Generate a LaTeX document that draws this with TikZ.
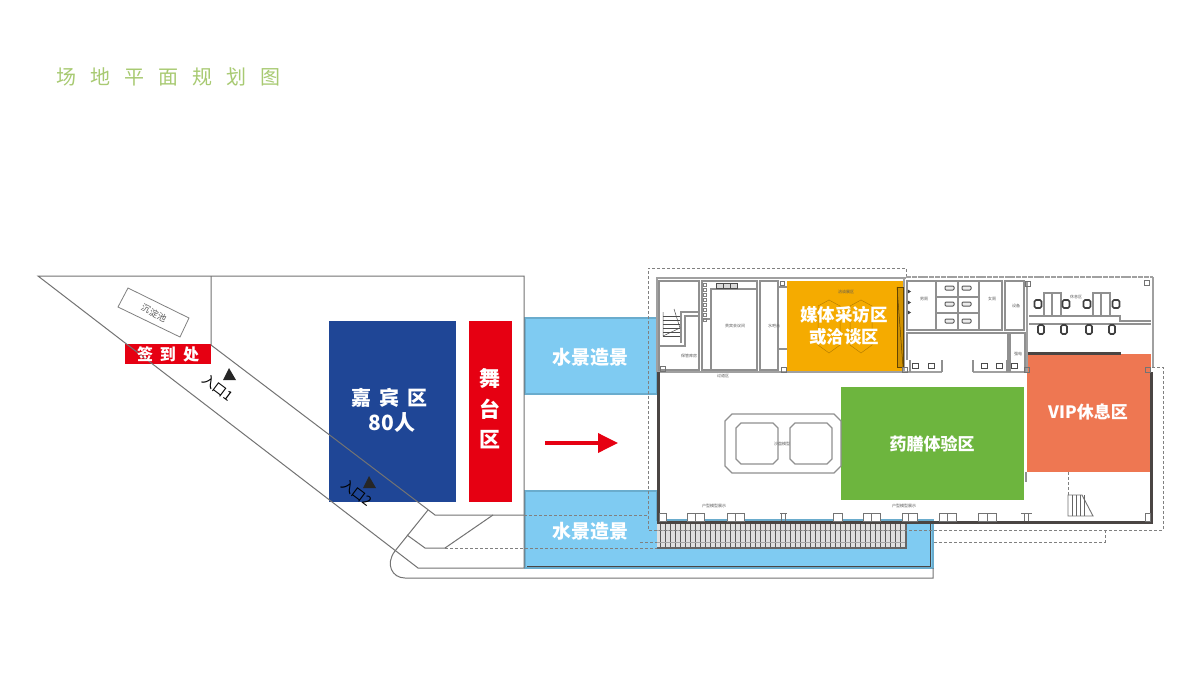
\documentclass[tikz,border=0pt]{standalone}
\usepackage{fontspec}
\setmainfont{Noto Sans CJK SC}
\usetikzlibrary{arrows.meta}
\definecolor{titlegreen}{HTML}{A8CA72}
\definecolor{waterblue}{HTML}{7FCBF2}
\definecolor{wateredge}{HTML}{6AACCD}
\definecolor{guestblue}{HTML}{1F4696}
\definecolor{stagered}{HTML}{E60012}
\definecolor{mediaorange}{HTML}{F5AB00}
\definecolor{foodgreen}{HTML}{6DB53E}
\definecolor{vipred}{HTML}{EE7752}
\definecolor{wallgray}{HTML}{A0A0A0}
\definecolor{walldark}{HTML}{4A4543}
\tikzset{
	x=1pt, y=-1pt, % one unit is one pixel of the plan, y runs downwards
	siteline/.style={draw=gray!90!black, line width=1pt}, % outline of the site
	roomline/.style={draw=wallgray!90!black, line width=1.2pt}, % thin room walls
	wall/.style={draw=wallgray, line width=2.6pt}, % upper walls
	darkwall/.style={draw=walldark, line width=3pt}, % heavy outer walls
	dashline/.style={draw=gray, line width=0.8pt, dashed, dash pattern=on 3pt off 2pt}, % hidden edges
	furniture/.style={draw=gray!90!black, line width=1pt, fill=white}, % small boxes along the walls
	seat/.style={draw=black!75, line width=1.6pt, fill=white, rounded corners=1.5pt}, % chairs and fittings
	water/.style={fill=waterblue, draw=wateredge, line width=2pt}, % ponds
	zonelabel/.style={text=white, font=\bfseries, inner sep=0pt}, % big zone names
	tiny/.style={text=gray!70!black, font=\fontsize{4}{4}\selectfont, inner sep=0pt}, % room names
}

\begin{document}
\begin{tikzpicture}
	\useasboundingbox[fill=white] (0,0) rectangle (1200,675);

	% ponds
	\path[water] (525,318) rectangle (657,394);
	\path[water] (525,491) -- (657,491) -- (657,520) -- (933,520) -- (933,568) -- (525,568) -- cycle;
	\draw[walldark, line width=0.6pt] (527,566) -- (930,566) -- (930,522);

	% zones of the forecourt
	\fill[guestblue] (329,321) rectangle (456,502);
	\fill[stagered] (469,321) rectangle (512,502);
	\fill[stagered] (125,344) rectangle (211,364);

	% site outline
	\draw[siteline] (524,568) -- (524,276) -- (38,276) -- (418,568) -- (524,568);
	\draw[siteline] (211,276) -- (211,345) -- (435,515) -- (524,515);
	\draw[siteline] (428,510) -- (395,551) .. controls (385,564) and (392,578) .. (405,578) -- (933,578) -- (933,568);
	\draw[siteline] (407,535) -- (425,548) -- (445,548) -- (493,515);
	\draw[dashline] (524,515) -- (648,515);
	\draw[dashline] (445,548) -- (657,548);
	\draw[dashline] (640,542) -- (657,542);

	% settling pool
	\draw[draw=gray, line width=0.8pt, fill=white] (128,288) -- (189,318) -- (180,337) -- (118,307) -- cycle;
	\node[rotate=-27, text=gray!70!black, font=\fontsize{9}{9}\selectfont, inner sep=0pt] (pool) at (154,313) {沉淀池};

	% entrances
	\node[rotate=-37, font=\fontsize{13.5}{14}\selectfont, inner sep=0pt] (gate1) at (218,388) {入口1};
	\node[rotate=-37, font=\fontsize{13.5}{14}\selectfont, inner sep=0pt] (gate2) at (357,493) {入口2};
	\fill[black!85] (229,368) -- (236,380) -- (223,380) -- cycle;
	\fill[black!85] (369,476) -- (376,488) -- (363,488) -- cycle;

	% walkway along the building
	\fill[gray!25] (657,522) rectangle (906,548);
	\foreach \x in {660,665,...,905}
		\draw[gray!70!black, line width=0.5pt] (\x,523) -- (\x,547);
	\draw[gray!70, line width=0.5pt] (657,530) -- (906,530);
	\draw[gray!70, line width=0.5pt] (657,542) -- (906,542);
	\draw[gray!80!black, line width=1.4pt] (657,548) -- (906,548) -- (906,522);

	% dashed roof edge
	\draw[dashline] (906,277) -- (906,268) -- (648,268) -- (648,530) -- (1163,530) -- (1163,367) -- (1151,367);
	\draw[dashline] (934,542) -- (1105,542) -- (1105,530);
	\draw[dashline] (1068,472) -- (1068,495);

	% coloured rooms
	\fill[mediaorange] (787,281) rectangle (903,372);
	\fill[foodgreen] (841,387) rectangle (1024,500);
	\fill[vipred] (1027,354) rectangle (1151,472);
	\draw[walldark, line width=3pt] (1028,353) -- (1121,353);

	% upper walls
	\draw[wall] (657,372) -- (657,278) -- (906,278);
	\draw[wall] (657,372) -- (905,372);
	\draw[wall] (905,372) -- (942,372);
	\draw[wall] (973,372) -- (1027,372);
	\draw[wall] (904,278) -- (904,372);
	\draw[wall] (1027,281) -- (1027,372);
	\draw[wall] (1153,277) -- (1153,367);
	\draw[wall, dash pattern=on 5pt off 0.8pt] (906,277) -- (1153,277);

	% heavy walls
	\draw[darkwall] (658,372) -- (658,522) -- (1151,522) -- (1151,372);

	% rooms on the left of the upper band
	\draw[roomline] (659,281) rectangle (699,370);
	\draw[roomline] (681,343) -- (681,312) -- (699,312);
	\draw[roomline] (659,346) -- (685,346) -- (685,316) -- (699,316);
	\foreach \y in {316,320,...,336}
		\draw[black!70, line width=0.5pt] (663,\y) -- (680,\y);
	\draw[black!70, line width=0.5pt] (663,312) -- (663,336) -- (680,328) -- (674,309);
	\draw[roomline] (702,281) rectangle (757,370);
	\draw[roomline] (711,370) -- (711,289) -- (757,289);
	\draw[roomline] (702,319) -- (711,319);
	\foreach \y in {283,288,...,318}
		\draw[gray, line width=0.5pt] (703,\y) rectangle (706,\y+3);
	\foreach \x in {716,723,730}
		\draw[black!70, line width=0.9pt, fill=gray!30] (\x,283) rectangle (\x+7,288);
	\draw[roomline] (760,281) rectangle (778,370);
	\draw[roomline] (778,287) -- (787,287);
	\draw[roomline] (778,349) -- (787,349);
	\draw[furniture] (780,281) rectangle (784,285);

	% media room fittings
	\draw[black!25!mediaorange, line width=0.5pt] (829,300) -- (818,306) -- (818,345) -- (829,353) -- (840,345) -- (840,306) -- cycle;
	\draw[black!25!mediaorange, line width=0.5pt] (861,300) -- (850,306) -- (850,345) -- (861,353) -- (872,345) -- (872,306) -- cycle;
	\draw[black!60!mediaorange, line width=0.8pt, fill=mediaorange!85!black] (897,287) rectangle (903,367);
	\draw[black!60!mediaorange, line width=0.5pt] (897,287) -- (903,367);
	\foreach \y in {289,300,310}
		\fill[black!75] (907,\y) -- (911,\y+2.5) -- (907,\y+5) -- cycle;

	% toilets and small rooms
	\foreach \x in {907,936,958,979}
		\draw[roomline] (\x,281) -- (\x,330);
	\draw[roomline] (907,281) -- (1002,281) -- (1002,330) -- (907,330) -- cycle;
	\draw[roomline] (1005,281) rectangle (1024,330);
	\foreach \y in {297,313}
		\draw[roomline] (936,\y) -- (979,\y);
	\foreach \x in {945,962}
		\foreach \y in {286,302,319}
			\draw[draw=black!65, line width=1pt, fill=gray!15, rounded corners=1pt] (\x,\y) rectangle (\x+9,\y+4);
	\draw[roomline] (907,360) -- (907,333) -- (1008,333) -- (1008,372);
	\draw[roomline] (1010,372) -- (1010,333) -- (1025,333) -- (1025,372);
	\foreach \x/\w in {910/32,973/34}
		\draw[roomline] (\x,360) -- (\x,372) (\x+\w,372) -- (\x+\w,360);
	\foreach \x in {915,931,984,999,1014}
		\draw[draw=black!70, line width=1pt, fill=white] (\x-3,363) rectangle (\x+3,368);

	% lounge on the right of the upper band
	\draw[roomline] (1029,316) -- (1120,316) -- (1120,321) -- (1151,321);
	\draw[roomline] (1029,324) -- (1151,324);
	\foreach \x in {1044,1093}
	{
		\draw[roomline] (\x,315) -- (\x,293) -- (\x+17,293) -- (\x+17,315);
		\draw[roomline] (\x+8,293) -- (\x+8,315);
	}
	\foreach \x in {1038,1066,1087,1116}
		\draw[seat] (\x-3.5,300) rectangle (\x+3.5,308);
	\foreach \x in {1041,1064,1089,1112}
		\draw[seat] (\x-3,325) rectangle (\x+3,334);

	% pillars
	\foreach \x/\y in {663/369,784/370,905/370,1027/370,1148/370,1028/284,1147/283}
		\draw[draw=gray!90!black, line width=1pt, fill=none] (\x-2.5,\y-2.5) rectangle (\x+2.5,\y+2.5);

	% sand table in the hall
	\draw[roomline] (732,414) -- (834,414) -- (841,421) -- (841,466) -- (834,473) -- (732,473) -- (725,466) -- (725,421) -- cycle;
	\foreach \x in {736,790}
		\draw[roomline] (\x+5,423) -- (\x+37,423) -- (\x+42,428) -- (\x+42,459) -- (\x+37,464) -- (\x+5,464) -- (\x,459) -- (\x,428) -- cycle;

	% boxes along the south wall
	\foreach \x/\w in {659/7,687/8.5,695.5/8.5,727/8.5,735.5/8.5,833/9,863/8.5,871.5/8.5,902/6,908/9,939/8.5,947.5/8.5,978/9,987/9,1145/5}
		\draw[furniture] (\x,513) rectangle (\x+\w,521);
	\foreach \x/\w in {780/7,1021/11}
		\draw[furniture] (\x,513) -- (\x+\w,513) (\x+\w/2-2,513) -- (\x+\w/2-2,521) (\x+\w/2+2,513) -- (\x+\w/2+2,521);
	\draw[roomline] (1026,472) -- (1026,482);

	% stair in the hall
	\draw[draw=gray!90!black, line width=0.9pt] (1068,516) -- (1068,495) -- (1082,495) -- (1093,516) -- cycle;
	\foreach \x in {1072,1076,1080,1084}
		\draw[gray!80!black, line width=0.6pt] (\x,495) -- (\x,516);

	% arrow to the building
	\draw[stagered, line width=3.6pt, -{Triangle[length=20pt, width=19pt]}] (545,443) -- (618,443);

	% title
	\node[anchor=west, text=titlegreen, font=\fontsize{20}{20}\selectfont, inner sep=0pt] (title) at (56,77)
		{场\hspace{14pt}地\hspace{14pt}平\hspace{14pt}面\hspace{14pt}规\hspace{14pt}划\hspace{14pt}图};

	% big zone names
	\node[zonelabel, font=\bfseries\fontsize{16}{16}\selectfont] (signin) at (168,354) {签\hspace{7pt}到\hspace{7pt}处};
	\node[zonelabel, font=\bfseries\fontsize{20}{20}\selectfont] (guests) at (389,398) {嘉\hspace{8pt}宾\hspace{8pt}区};
	\node[zonelabel, font=\bfseries\fontsize{21}{21}\selectfont] (seats) at (392,423) {80人};
	\node[zonelabel, font=\bfseries\fontsize{21}{21}\selectfont] (stage1) at (490,378) {舞};
	\node[zonelabel, font=\bfseries\fontsize{21}{21}\selectfont] (stage2) at (490,409) {台};
	\node[zonelabel, font=\bfseries\fontsize{21}{21}\selectfont] (stage3) at (490,440) {区};
	\node[zonelabel, font=\bfseries\fontsize{19}{19}\selectfont] (pond1) at (590,357) {水景造景};
	\node[zonelabel, font=\bfseries\fontsize{19}{19}\selectfont] (pond2) at (590,531) {水景造景};
	\node[zonelabel, font=\bfseries\fontsize{17.5}{17.5}\selectfont] (media1) at (844,315) {媒体采访区};
	\node[zonelabel, font=\bfseries\fontsize{17.5}{17.5}\selectfont] (media2) at (844,337) {或洽谈区};
	\node[zonelabel, font=\bfseries\fontsize{17}{17}\selectfont] (food) at (932,444) {药膳体验区};
	\node[zonelabel, font=\bfseries\fontsize{17}{17}\selectfont] (vip) at (1088,412) {VIP休息区};

	% small room names
	\node[tiny] (room1) at (689,356) {保管库房};
	\node[tiny] (room2) at (735,326) {贵宾会议间};
	\node[tiny] (room3) at (774,326) {水吧台};
	\node[tiny] (room4) at (723,376) {过道区};
	\node[tiny] (room5) at (846,292) {洽谈展区};
	\node[tiny] (room6) at (924,299) {男厕};
	\node[tiny] (room7) at (992,299) {女厕};
	\node[tiny] (room8) at (1016,306) {设备};
	\node[tiny] (room9) at (1018,354) {强电};
	\node[tiny] (room10) at (1076,297) {休息区};
	\node[tiny] (model1) at (714,506) {户型模型展示};
	\node[tiny] (model2) at (904,506) {户型模型展示};
	\node[tiny] (table) at (782,444) {沙盘模型};
\end{tikzpicture}
\end{document}
